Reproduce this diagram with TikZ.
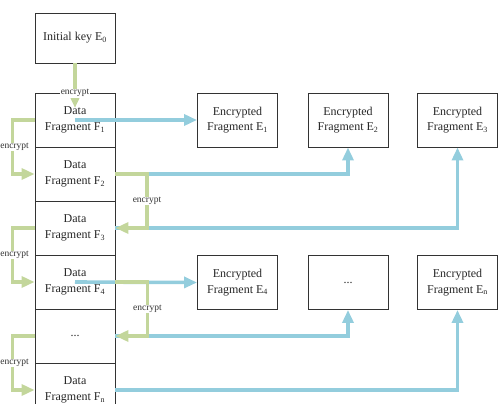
\documentclass[tikz,border=0pt]{standalone}
\usepackage{fontspec}
\setmainfont{Liberation Serif}
\usetikzlibrary{arrows.meta}

\definecolor{flowblue}{RGB}{147,205,221}
\definecolor{flowgreen}{RGB}{195,214,155}

\begin{document}
\begin{tikzpicture}[x=1pt,y=-1pt,
    box/.style={draw=black!80,line width=0.9pt,minimum width=80pt,minimum height=54pt,
      align=center,inner sep=1pt,font=\fontsize{12}{15.5}\selectfont,text=black!85},
    blueflow/.style={draw=flowblue,line width=3.6pt,-{Triangle[length=13pt,width=11pt]}},
    greenflow/.style={draw=flowgreen,line width=3.6pt,-{Triangle[length=13pt,width=11pt]}},
    lbl/.style={fill=white,inner sep=0.6pt,font=\fontsize{9.5}{11}\selectfont,text=black!80}]
  \useasboundingbox (0,0) rectangle (501,404);
  \clip (0,0) rectangle (501,404);
  \node[box,minimum height=50pt] (key) at (75,38) {Initial key E\textsubscript{0}};
  \node[box] (F1) at (75,120) {Data\\Fragment F\textsubscript{1}};
  \node[box] (F2) at (75,174) {Data\\Fragment F\textsubscript{2}};
  \node[box] (F3) at (75,228) {Data\\Fragment F\textsubscript{3}};
  \node[box] (F4) at (75,282) {Data\\Fragment F\textsubscript{4}};
  \node[box] (Fd) at (75,336) {...};
  \node[box] (Fn) at (75,390) {Data\\Fragment F\textsubscript{n}};
  \node[box] (E1) at (237.5,120) {Encrypted\\Fragment E\textsubscript{1}};
  \node[box] (E2) at (348,120) {Encrypted\\Fragment E\textsubscript{2}};
  \node[box] (E3) at (457.5,120) {Encrypted\\Fragment E\textsubscript{3}};
  \node[box] (E4) at (237.5,282.5) {Encrypted\\Fragment E\textsubscript{4}};
  \node[box] (Ed) at (348,282.5) {...};
  \node[box] (En) at (457.5,282.5) {Encrypted\\Fragment E\textsubscript{n}};
  \coordinate (k1) at (75,108);
  \coordinate (c2) at (147,174);
  % encrypted fragments
  \draw[blueflow] (F1.center) -- (E1.west);
  \draw[blueflow] (c2) -| (E2.south);
  \draw[blueflow] (F3.east) -| (E3.south);
  \draw[blueflow] (F4.center) -- (E4.west);
  \draw[blueflow] (Fd.east) -| (Ed.south);
  \draw[blueflow] (Fn.east) -| (En.south);
  % key chain
  \draw[greenflow] (key.south) -- node[lbl,pos=0.67] {encrypt} (k1);
  \draw[greenflow] (F1.west) -- ++(-22,0) |- node[lbl,pos=0.25,xshift=2pt] {encrypt} (F2.west);
  \draw[greenflow] (F2.east) -- (c2) |- node[lbl,pos=0.25] {encrypt} (F3.east);
  \draw[greenflow] (F3.west) -- ++(-22,0) |- node[lbl,pos=0.25,xshift=2pt] {encrypt} (F4.west);
  \draw[greenflow] (F4.east) -- ++(32,0) |- node[lbl,pos=0.25] {encrypt} (Fd.east);
  \draw[greenflow] (Fd.west) -- ++(-22,0) |- node[lbl,pos=0.25,xshift=2pt] {encrypt} (Fn.west);
\end{tikzpicture}
\end{document}
